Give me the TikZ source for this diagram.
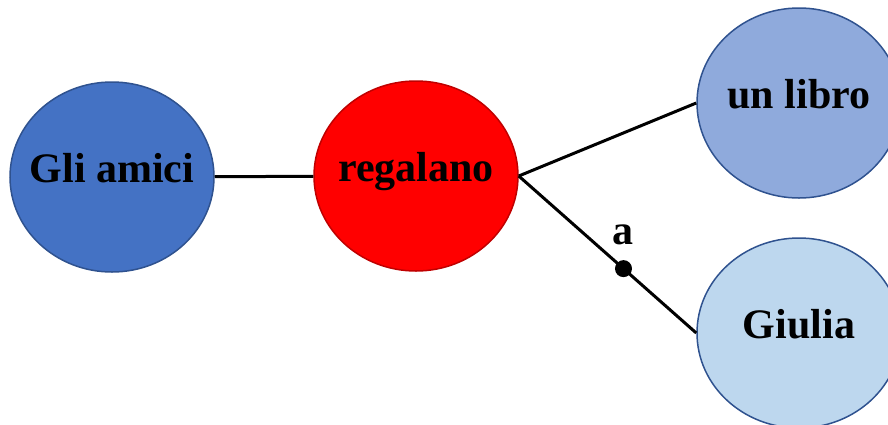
\documentclass[tikz,border=0pt]{standalone}
\usepackage{fontspec}
\setmainfont{Liberation Serif}
\usetikzlibrary{shapes.geometric}
\definecolor{bluedark}{HTML}{4472C4}
\definecolor{bluemid}{HTML}{8FAADC}
\definecolor{bluelight}{HTML}{BDD7EE}
\definecolor{blueedge}{HTML}{2F528F}
\definecolor{rededge}{HTML}{C00000}
\tikzset{
  word/.style={ellipse, draw=blueedge, line width=1.5pt, minimum width=204pt, minimum height=190pt, inner sep=-14pt, text height=29pt, text depth=19pt, font=\fontsize{42}{42}\selectfont\bfseries},
  link/.style={line width=3pt}
}
\begin{document}
\begin{tikzpicture}[x=1pt,y=-1pt]
                \useasboundingbox (0,0) rectangle (888,424);
                \node [word, fill=bluedark] (amici) at (112,177) {Gli amici};
                \node [word, fill=red, draw=rededge] (regalano) at (416,176) {regalano};
                \node [word, fill=bluemid] (libro) at (799,103) {un libro};
                \node [word, fill=bluelight] (giulia) at (799,333) {Giulia};
                \draw [link] (amici) -- (regalano);
                \draw [link] (regalano.east) -- (libro.west);
                \draw [link] (regalano.east) -- (giulia.west) node [pos=0.59, circle, fill=black, inner sep=0pt, minimum size=17pt] (dot) {};
                \node [font=\fontsize{42}{42}\selectfont\bfseries, anchor=base, inner sep=0pt] (a) at ([yshift=14pt]dot.north) {a};
            \end{tikzpicture}
\end{document}
